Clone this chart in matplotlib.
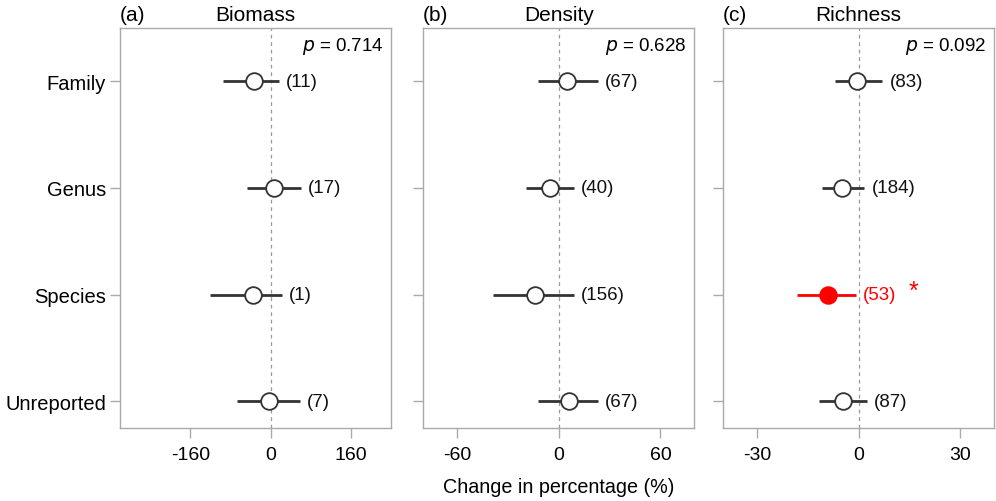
import matplotlib
matplotlib.use("Agg")
import matplotlib.pyplot as plt

plt.rcParams['font.family'] = ['Liberation Sans', 'DejaVu Sans']

# Datos
niveles = ['Family', 'Genus', 'Species', 'Unreported']
paneles = ['Biomass', 'Density', 'Richness']
letras = ['(a)', '(b)', '(c)']
p_valores = ['0.714', '0.628', '0.092']

biomasa_media = [-33, 6, -36, -4]
biomasa_lo = [-95, -48, -120, -68]
biomasa_hi = [16, 60, 23, 58]
biomasa_n = [11, 17, 1, 7]

densidad_media = [5, -5, -14, 6]
densidad_lo = [-12, -19, -39, -12]
densidad_hi = [23, 9, 9, 23]
densidad_n = [67, 40, 156, 67]

riqueza_media = [-0.4, -4.8, -9.1, -4.7]
riqueza_lo = [-7, -10.7, -18.2, -11.6]
riqueza_hi = [7, 1.7, -0.8, 2.5]
riqueza_n = [83, 184, 53, 87]
riqueza_signif = [False, False, True, False]

limites = [(-300, 240), (-80, 80), (-40, 40)]
ticks_x = [[-160, 0, 160], [-60, 0, 60], [-30, 0, 30]]

datos = [
    (biomasa_media, biomasa_lo, biomasa_hi, biomasa_n, [False] * 4),
    (densidad_media, densidad_lo, densidad_hi, densidad_n, [False] * 4),
    (riqueza_media, riqueza_lo, riqueza_hi, riqueza_n, riqueza_signif),
]

gris = '#aaaaaa'
oscuro = '#333333'
rojo = '#ff0000'

fig = plt.figure(figsize=(9.96, 5.02), dpi=100)
izquierdas = [0.1205, 0.4247, 0.7259]
ys = [4, 3, 2, 1]

for k in range(3):
    ax = fig.add_axes([izquierdas[k], 0.1454, 0.2725, 0.797])
    media, lo, hi, n, sig = datos[k]
    ax.axvline(0, color='#999999', ls=(0, (3, 3)), lw=0.9, zorder=1)
    for i in range(len(niveles)):
        col = rojo if sig[i] else oscuro
        ax.plot([lo[i], hi[i]], [ys[i], ys[i]], color=col, lw=2.0,
                solid_capstyle='butt', zorder=2)
        ax.plot(media[i], ys[i], 'o', ms=12,
                mfc=rojo if sig[i] else 'white',
                mec=rojo if sig[i] else oscuro, mew=1.3, zorder=3)
        ax.annotate(f'({n[i]})', (hi[i], ys[i]), xytext=(5, 0),
                    textcoords='offset points', ha='left', va='center',
                    fontsize=13.5, color=rojo if sig[i] else '#111111')
        if sig[i]:
            ax.annotate('*', (hi[i], ys[i]), xytext=(38, 3),
                        textcoords='offset points', ha='left', va='center',
                        fontsize=18, color=rojo)
    ax.set_xlim(limites[k])
    ax.set_ylim(0.75, 4.5)
    ax.set_xticks(ticks_x[k])
    ax.set_xticklabels([str(t) for t in ticks_x[k]], fontsize=14)
    ax.set_yticks(ys)
    if k == 0:
        ax.set_yticklabels(niveles, fontsize=14.5)
    else:
        ax.set_yticklabels([])
    ax.tick_params(axis='both', colors=gris, labelcolor='#000000',
                   length=7, width=1)
    ax.tick_params(axis='y', pad=3)
    ax.tick_params(axis='x', pad=6)
    for s in ax.spines.values():
        s.set_color(gris)
        s.set_linewidth(1)
    ax.text(0.0, 1.01, letras[k], transform=ax.transAxes, ha='left',
            va='bottom', fontsize=15)
    ax.text(0.5, 1.01, paneles[k], transform=ax.transAxes, ha='center',
            va='bottom', fontsize=15)
    ax.text(0.97, 0.955, f'$p$ = {p_valores[k]}', transform=ax.transAxes,
            ha='right', va='center', fontsize=13.5)
    if k == 1:
        ax.set_xlabel('Change in percentage (%)', fontsize=14.2, labelpad=10)

fig.savefig('out.png', dpi=100)
